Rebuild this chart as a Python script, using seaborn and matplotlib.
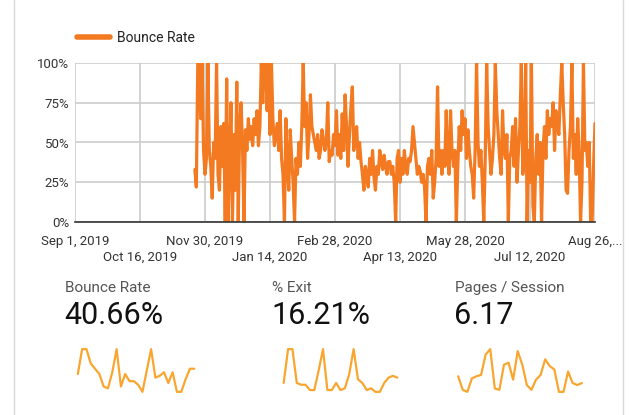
import pandas as pd
import numpy as np
import matplotlib
matplotlib.use('Agg')
import matplotlib.pyplot as plt
import seaborn as sns
from matplotlib.lines import Line2D

sns.set_style('white')
plt.rcParams['font.family'] = ['Roboto', 'DejaVu Sans']

# daily bounce rate (%), Nov 23, 2019 -> Aug 26, 2020
bounce_rate = [
    33, 22, 100, 100, 65, 100, 45, 30, 40, 100, 45, 35, 15, 50, 40,
    100, 30, 20, 60, 35, 62, 0, 90, 0, 40, 75, 0, 55, 20, 88,
    0, 60, 75, 45, 0, 58, 45, 65, 52, 60, 48, 65, 55, 70, 48,
    60, 100, 75, 100, 100, 70, 100, 55, 100, 65, 48, 55, 62, 45, 70,
    40, 30, 0, 65, 35, 20, 58, 40, 25, 0, 40, 30, 50, 35, 60,
    100, 60, 75, 40, 55, 80, 60, 55, 50, 45, 55, 40, 45, 58, 52,
    45, 50, 75, 38, 45, 42, 55, 48, 70, 42, 55, 40, 68, 45, 80,
    60, 35, 55, 72, 85, 45, 55, 60, 40, 50, 38, 30, 20, 35, 30,
    22, 40, 30, 45, 28, 20, 35, 30, 45, 38, 33, 42, 35, 30, 38,
    38, 30, 35, 25, 0, 40, 45, 25, 40, 30, 45, 35, 30, 40, 38,
    45, 60, 50, 40, 30, 35, 32, 25, 30, 22, 0, 35, 40, 30, 45,
    15, 25, 40, 85, 35, 45, 30, 45, 35, 70, 40, 30, 70, 45, 35,
    45, 0, 35, 60, 45, 70, 55, 65, 40, 58, 45, 35, 30, 15, 45,
    100, 50, 35, 45, 25, 0, 40, 100, 60, 45, 30, 40, 55, 100, 70,
    55, 40, 30, 70, 45, 40, 55, 0, 40, 45, 60, 35, 65, 25, 45,
    60, 100, 30, 40, 100, 0, 45, 25, 100, 10, 0, 40, 55, 30, 50,
    0, 45, 60, 40, 70, 55, 65, 60, 75, 45, 70, 60, 55, 80, 100,
    75, 55, 20, 18, 45, 60, 100, 40, 55, 30, 65, 45, 0, 25, 100,
    45, 50, 35, 50, 0, 0, 35, 62,
]

# scorecards
card_titles = ['Bounce Rate', '% Exit', 'Pages / Session']
card_values = ['40.66%', '16.21%', '6.17']

# weekly sparklines
spark_bounce = [45, 87, 87, 63, 54, 45, 24, 21, 48, 87, 24, 45, 33, 33, 27, 15,
                51, 87, 39, 42, 48, 30, 48, 15, 15, 36, 54, 54]
spark_exit = [13, 32, 32, 13, 12, 12, 9, 9, 20, 32, 9, 9, 13, 9, 10, 18,
              32, 15, 13, 9, 10, 8, 8, 13, 16, 17, 16]
spark_pages = [5.3, 3.3, 3.0, 5.0, 5.3, 5.5, 8.5, 9.3, 3.5, 3.3, 7.0, 7.3, 4.8, 9.0,
               7.0, 4.0, 3.3, 4.8, 5.5, 7.8, 6.8, 6.3, 3.0, 3.0, 6.0, 4.3, 4.0, 4.3]

W, H = 630, 415
orange = '#f47a22'
spark_orange = '#f9a630'

df = pd.DataFrame({
    'date': pd.date_range(end='2020-08-26', periods=len(bounce_rate), freq='D'),
    'Bounce Rate': bounce_rate,
})

fig = plt.figure(figsize=(W / 100, H / 100), dpi=100)

# card edges
fig.add_artist(Line2D([14 / W, 14 / W], [0, 1], color='#d9d9d9', lw=1))
fig.add_artist(Line2D([623 / W, 623 / W], [0, 1], color='#d9d9d9', lw=1))

# main time series
ax = fig.add_axes([75 / W, 1 - 222 / H, 520 / W, 159 / H])
sns.lineplot(data=df, x='date', y='Bounce Rate', color=orange, lw=2.3,
             label='Bounce Rate', ax=ax)


def fmt(t, last=False):
    s = t.strftime('%b ') + str(t.day)
    return s + (',...' if last else t.strftime(', %Y'))


start = pd.Timestamp('2019-09-01')
ticks = [start + pd.Timedelta(days=45 * k) for k in range(9)]
row1 = ticks[0::2]
row2 = ticks[1::2]

ax.set_xlim(ticks[0], ticks[-1])
ax.set_ylim(0, 100)
ax.set_xticks(row1)
ax.set_xticklabels([fmt(t, t == ticks[-1]) for t in row1], fontsize=9.5, color='#333333')
ax.set_xticks(row2, minor=True)
ax.set_xticklabels([fmt(t) for t in row2], minor=True, fontsize=9.5, color='#333333')
ax.tick_params(axis='x', which='major', length=0, pad=9.5)
ax.tick_params(axis='x', which='minor', length=0, pad=21)
ax.set_yticks([0, 25, 50, 75, 100])
ax.set_yticklabels(['0%', '25%', '50%', '75%', '100%'], fontsize=9.5, color='#333333')
ax.tick_params(axis='y', length=0, pad=4)
ax.grid(True, which='both', color='#cccccc', lw=1.2)
ax.set_axisbelow(True)
for side in ['top', 'right', 'left']:
    ax.spines[side].set_visible(False)
ax.spines['bottom'].set_color('#333333')
ax.spines['bottom'].set_linewidth(1.2)
ax.set_xlabel('')
ax.set_ylabel('')

leg = ax.legend(loc='center left', bbox_to_anchor=(64 / W, 1 - 38 / H),
                bbox_transform=fig.transFigure, frameon=False, fontsize=10,
                handlelength=2.4, handletextpad=0.5)
for h in leg.get_lines():
    h.set_linewidth(4)
for t in leg.get_texts():
    t.set_color('#222222')

# scorecards
title_x = [65, 272, 455]
spark_x = [(72, 128), (278, 125), (452, 136)]
sparks = [spark_bounce, spark_exit, spark_pages]
for i in range(3):
    fig.text(title_x[i] / W, 1 - 288 / H, card_titles[i], fontsize=11,
             color='#555555', va='center', ha='left')
    fig.text((title_x[i] - 1) / W, 1 - 316 / H, card_values[i], fontsize=22,
             color='#111111', va='center', ha='left')
    sax = fig.add_axes([spark_x[i][0] / W, 1 - 394 / H, spark_x[i][1] / W, 47 / H])
    sns.lineplot(x=np.arange(len(sparks[i])), y=sparks[i], color=spark_orange,
                 lw=1.6, ax=sax)
    sax.axis('off')

fig.savefig('out.png', dpi=100)
